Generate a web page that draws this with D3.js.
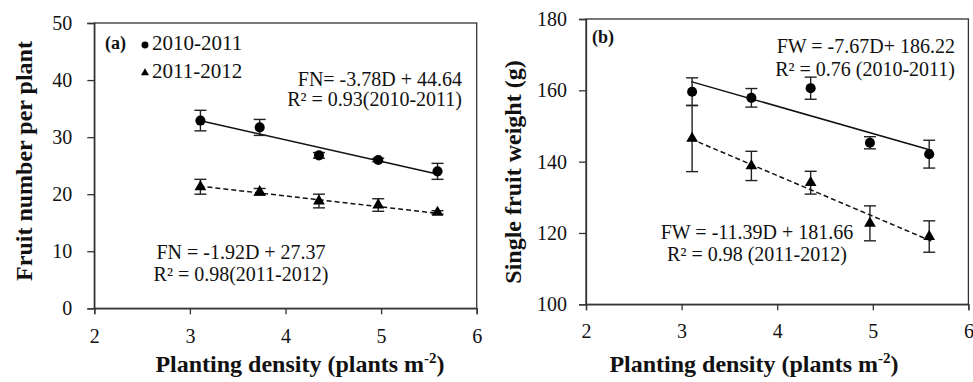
<!DOCTYPE html>
<html>
<head>
<meta charset="utf-8">
<script src="https://cdn.jsdelivr.net/npm/d3@7"></script>
<style>
  body { margin: 0; background: #fff; }
  text { font-family: "Liberation Serif", "Times New Roman", serif; fill: #111; }
</style>
</head>
<body>
<script>
const width = 973;
const height = 382;

// planting density (plants m-2)
const density = [3.11, 3.73, 4.35, 4.97, 5.59];
const xTicks = [2, 3, 4, 5, 6];

// (a) fruit number per plant
const fruitNum2010 = [32.9, 31.7, 26.8, 26.0, 24.0];
const fruitNumErr2010 = [1.8, 1.4, 0.5, 0.3, 1.4];
const fruitNum2011 = [21.3, 20.4, 18.8, 18.1, 16.8];
const fruitNumErr2011 = [1.3, 0.6, 1.2, 1.1, 0.3];
const yTicksA = [0, 10, 20, 30, 40, 50];

// (b) single fruit weight (g)
const fruitWt2010 = [159.6, 157.9, 160.6, 145.3, 142.1];
const fruitWtErr2010 = [3.9, 2.6, 3.1, 1.7, 3.9];
const fruitWt2011 = [146.5, 138.8, 134.1, 122.7, 119.0];
const fruitWtErr2011 = [9.3, 4.1, 3.2, 4.9, 4.4];
const yTicksB = [100, 120, 140, 160, 180];

// regression lines as printed on the chart: [slope, intercept]
const fitA = [[-3.78, 44.64], [-1.92, 27.37]];
const fitB = [[-7.67, 186.22], [-11.39, 181.66]];
const fitRange = [3.1, 5.62];

const seasons = ["2010-2011", "2011-2012"];

const svg = d3.select("body").append("svg")
    .attr("width", width)
    .attr("height", height);

function drawPanel(p) {
  const x = d3.scaleLinear().domain([2, 6]).range(p.xRange);
  const y = d3.scaleLinear().domain(p.yDomain).range(p.yRange);
  const g = svg.append("g");

  // frame
  g.append("rect")
      .attr("x", x(2)).attr("y", y.range()[1])
      .attr("width", x(6) - x(2)).attr("height", y.range()[0] - y.range()[1])
      .attr("fill", "none").attr("stroke", "#333").attr("stroke-width", 1.3);

  const xAxis = g.append("g")
      .attr("transform", `translate(0,${y.range()[0]})`)
      .call(d3.axisBottom(x).tickValues(xTicks).tickSize(6).tickPadding(p.xPad).tickFormat(d3.format("d")));
  const yAxis = g.append("g")
      .attr("transform", `translate(${x(2)},0)`)
      .call(d3.axisLeft(y).tickValues(p.yTicks).tickSize(7).tickPadding(p.yPad).tickFormat(d3.format("d")));
  [xAxis, yAxis].forEach(a => {
    a.attr("font-family", null);
    a.select(".domain").attr("stroke", "#333").attr("stroke-width", 1.3);
    a.selectAll(".tick line").attr("stroke", "#333").attr("stroke-width", 1.3);
    a.selectAll(".tick text").attr("font-size", 20).attr("fill", "#111");
  });

  // regression lines
  p.fits.forEach((f, i) => {
    g.append("line")
        .attr("x1", x(fitRange[0])).attr("y1", y(f[0] * fitRange[0] + f[1]))
        .attr("x2", x(fitRange[1])).attr("y2", y(f[0] * fitRange[1] + f[1]))
        .attr("stroke", "#111").attr("stroke-width", 1.5)
        .attr("stroke-dasharray", i === 1 ? "5,3" : null);
  });

  // error bars + markers
  p.series.forEach((s, si) => {
    const pts = density.map((d, i) => ({x: d, y: s.values[i], e: s.err[i]}));
    const eb = g.append("g").attr("stroke", "#222").attr("stroke-width", 1.4);
    pts.forEach(d => {
      eb.append("line").attr("x1", x(d.x)).attr("x2", x(d.x))
          .attr("y1", y(d.y - d.e)).attr("y2", y(d.y + d.e));
      [d.y - d.e, d.y + d.e].forEach(v => {
        eb.append("line").attr("x1", x(d.x) - 6).attr("x2", x(d.x) + 6)
            .attr("y1", y(v)).attr("y2", y(v));
      });
    });
    const sym = d3.symbol().type(si === 0 ? d3.symbolCircle : d3.symbolTriangle)
        .size(si === 0 ? 80 : 60);
    g.append("g").selectAll("path").data(pts).join("path")
        .attr("d", sym)
        .attr("transform", d => `translate(${x(d.x)},${y(d.y)})`)
        .attr("fill", "#000");
  });

  // panel letter
  g.append("text").attr("x", p.letter[1]).attr("y", p.letter[2])
      .attr("font-size", 18).attr("font-weight", "bold").text(p.letter[0]);

  // equations
  p.eqs.forEach(e => {
    e.lines.forEach((t, i) => {
      g.append("text").attr("x", e.x).attr("y", e.y + i * e.dy)
          .attr("text-anchor", e.anchor).attr("font-size", 20).text(t);
    });
  });

  // axis titles
  const xt = g.append("text").attr("x", p.xTitle[0]).attr("y", p.xTitle[1])
      .attr("text-anchor", "middle").attr("font-size", 24).attr("font-weight", "bold");
  xt.append("tspan").text("Planting density (plants m");
  xt.append("tspan").attr("font-size", 15).attr("dy", -9).text("-2");
  xt.append("tspan").attr("dy", 9).text(")");

  g.append("text")
      .attr("transform", `translate(${p.yTitle[1]},${p.yTitle[2]}) rotate(-90)`)
      .attr("text-anchor", "middle").attr("font-size", 24).attr("font-weight", "bold")
      .text(p.yTitle[0]);

  return {x, y, g};
}

const pa = drawPanel({
  xRange: [94.3, 476.7], yDomain: [0, 50], yRange: [308.3, 23], yTicks: yTicksA,
  xPad: 15, yPad: 15,
  fits: fitA,
  series: [{values: fruitNum2010, err: fruitNumErr2010}, {values: fruitNum2011, err: fruitNumErr2011}],
  letter: ["(a)", 105, 48.5],
  eqs: [
    {x: 462, y: 86, dy: 20, anchor: "end", lines: ["FN= -3.78D + 44.64", "R² = 0.93(2010-2011)"]},
    {x: 241, y: 259, dy: 22, anchor: "middle", lines: ["FN = -1.92D + 27.37", "R² = 0.98(2011-2012)"]}
  ],
  xTitle: [300, 372],
  yTitle: ["Fruit number per plant", 32, 161]
});

// legend (panel a)
seasons.forEach((s, i) => {
  const ly = 45 + i * 28;
  pa.g.append("path")
      .attr("d", d3.symbol().type(i === 0 ? d3.symbolCircle : d3.symbolTriangle).size(i === 0 ? 38 : 28))
      .attr("transform", `translate(145,${ly})`).attr("fill", "#000");
  pa.g.append("text").attr("x", 152).attr("y", ly + 4.5).attr("font-size", 21).text(s);
});

drawPanel({
  xRange: [586, 968.4], yDomain: [100, 180], yRange: [304.3, 19], yTicks: yTicksB,
  xPad: 14, yPad: 12,
  fits: fitB,
  series: [{values: fruitWt2010, err: fruitWtErr2010}, {values: fruitWt2011, err: fruitWtErr2011}],
  letter: ["(b)", 592, 43],
  eqs: [
    {x: 955, y: 53, dy: 23, anchor: "end", lines: ["FW = -7.67D+ 186.22", "R² = 0.76 (2010-2011)"]},
    {x: 757, y: 239, dy: 22, anchor: "middle", lines: ["FW = -11.39D + 181.66", "R² = 0.98 (2011-2012)"]}
  ],
  xTitle: [754, 372],
  yTitle: ["Single fruit weight (g)", 521, 172]
});
</script>
</body>
</html>
